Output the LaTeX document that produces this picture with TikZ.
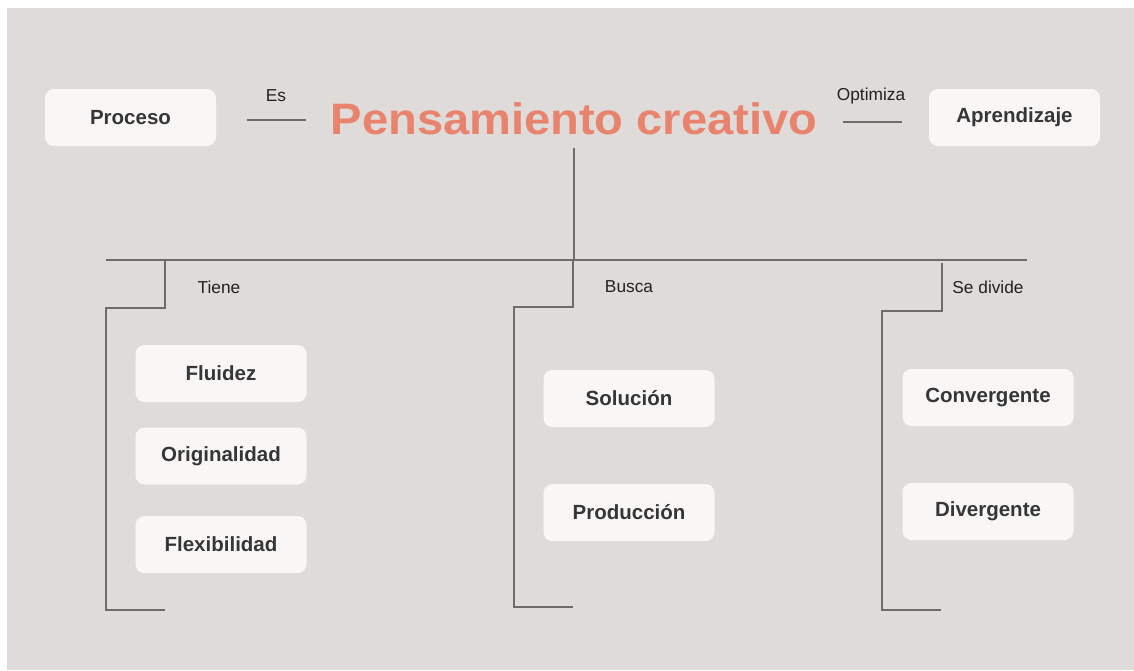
\documentclass[tikz,border=0pt]{standalone}
\usepackage{fontspec}
\setmainfont{Liberation Sans}
\definecolor{bgc}{HTML}{DFDBD8}
\definecolor{boxc}{HTML}{F9F7F5}
\definecolor{titlec}{HTML}{E8836E}
\definecolor{linec}{HTML}{6E6B6A}
\definecolor{boxtext}{HTML}{363636}
\definecolor{labtext}{HTML}{222222}
\begin{document}
\begin{tikzpicture}[x=1pt,y=-1pt,
  box/.style={fill=boxc, rounded corners=9pt, minimum width=171pt, minimum height=57pt,
    font=\fontsize{20.5}{24}\selectfont\bfseries, text=boxtext, inner sep=0pt},
  lab/.style={font=\fontsize{17.3}{20}\selectfont, text=labtext, inner sep=0pt},
  ln/.style={draw=linec, line width=1.8pt}]
\useasboundingbox (0,0) rectangle (1134,670);
\fill[white] (0,0) rectangle (1134,670);
\fill[bgc] (7,8) rectangle (1134,670);

% top row
\node[box] (proceso) at (130.5,117.5) {Proceso};
\node[box] (aprend) at (1014.5,117.5) {Aprendizaje};
\node[font=\fontsize{44}{48}\selectfont\bfseries, text=titlec, inner sep=0pt] (title) at (574,119) {\scalebox{1.07}[1]{Pensamiento creativo}};
\node[lab] (es) at (276,96) {Es};
\node[lab] (opt) at (871,96) {Optimiza};

\coordinate (esA) at (247,120); \coordinate (esB) at (306,120);
\coordinate (opA) at (843,122); \coordinate (opB) at (902,122);
\draw[ln] (esA) -- (esB);
\draw[ln] (opA) -- (opB);

% stem and main bar
\coordinate (stemTop) at (574,148);
\coordinate (stemBot) at (574,260);
\coordinate (barL) at (106,260);
\coordinate (barR) at (1027,260);
\draw[ln] (stemTop) -- (stemBot);
\draw[ln] (barL) -- (barR);

% branch labels
\node[lab] (tiene) at (219,287) {Tiene};
\node[lab] (busca) at (629,287) {Busca};
\node[lab] (divide) at (988,287) {Se divide};

% left bracket
\coordinate (l1) at (165,260); \coordinate (l2) at (165,308);
\coordinate (l3) at (106,308); \coordinate (l4) at (106,610); \coordinate (l5) at (165,610);
\draw[ln] (l1) -- (l2) -- (l3) -- (l4) -- (l5);
% middle bracket
\coordinate (m1) at (573,260); \coordinate (m2) at (573,307);
\coordinate (m3) at (514,307); \coordinate (m4) at (514,607); \coordinate (m5) at (573,607);
\draw[ln] (m1) -- (m2) -- (m3) -- (m4) -- (m5);
% right bracket
\coordinate (r1) at (942,263); \coordinate (r2) at (942,311);
\coordinate (r3) at (882,311); \coordinate (r4) at (882,610); \coordinate (r5) at (941,610);
\draw[ln] (r1) -- (r2) -- (r3) -- (r4) -- (r5);

% boxes
\node[box] (fluidez) at (221,373.5) {Fluidez};
\node[box] (orig) at (221,456) {Originalidad};
\node[box] (flex) at (221,544.5) {Flexibilidad};
\node[box] (sol) at (629,398.5) {Solución};
\node[box] (prod) at (629,512.5) {Producción};
\node[box] (conv) at (988,397.5) {Convergente};
\node[box] (div) at (988,511.5) {Divergente};
\end{tikzpicture}
\end{document}
